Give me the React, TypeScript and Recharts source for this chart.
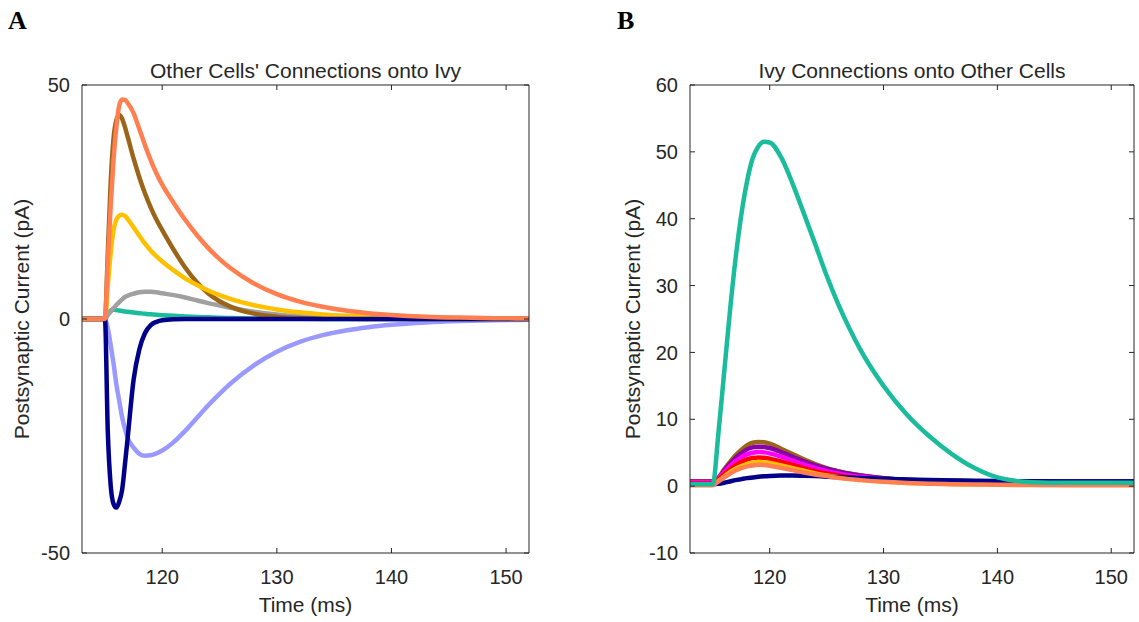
import React from 'react';
import { LineChart, Line, XAxis, YAxis, ReferenceLine } from 'recharts';

// ---------- Panel A: other cells' connections onto Ivy ----------
const timeA = [113, 115, 115.25, 115.5, 115.75, 116, 116.25, 116.5, 116.75, 117, 117.5, 118, 118.5, 119, 119.5, 120, 121, 122, 123, 124, 125, 126, 128, 130, 132, 134, 136, 138, 140, 143, 146, 149, 152];

const periwinkleA = [0, 0, -2, -5.5, -9.5, -14, -17.5, -21, -23.5, -25.5, -27.5, -28.8, -29.2, -29.1, -28.7, -28.1, -26.3, -23.9, -21.2, -18.5, -16, -13.7, -9.9, -7.0, -4.9, -3.45, -2.45, -1.75, -1.25, -0.75, -0.45, -0.27, -0.17];
const tealA = [0, 0, 1.2, 1.8, 2, 1.9, 1.8, 1.7, 1.6, 1.55, 1.4, 1.25, 1.1, 1, 0.9, 0.82, 0.68, 0.55, 0.44, 0.35, 0.27, 0.21, 0.12, 0.06, 0.03, 0.01, 0, 0, 0, 0, 0, 0, 0];
const grayA = [0, 0, 0.8, 1.6, 2.3, 3, 3.6, 4.2, 4.7, 5, 5.4, 5.7, 5.8, 5.8, 5.7, 5.5, 5.1, 4.6, 4.0, 3.4, 2.9, 2.4, 1.55, 0.95, 0.57, 0.34, 0.2, 0.12, 0.07, 0.03, 0.01, 0, 0];
const brownA = [0, 0, 14, 29, 38.5, 42.5, 43.6, 42.8, 41, 38.8, 34.3, 30.3, 26.8, 23.8, 21.2, 19, 14.8, 11, 7.9, 5.5, 3.8, 2.6, 1.15, 0.5, 0.22, 0.1, 0.04, 0.01, 0, 0, 0, 0, 0];
const yellowA = [0, 0, 7, 14, 19, 21.2, 22.1, 22.3, 22, 21.3, 19.6, 17.8, 16.1, 14.6, 13.4, 12.3, 10.4, 8.7, 7.3, 6.1, 5.1, 4.25, 2.95, 2.05, 1.42, 0.98, 0.68, 0.47, 0.33, 0.19, 0.11, 0.06, 0.04];
const navyA = [0, 0, -24, -35.5, -39.5, -40.3, -39, -36.5, -31, -25, -13, -6.5, -3, -1.3, -0.6, -0.25, -0.05, 0, 0, 0, 0, 0, 0, 0, 0, 0, 0, 0, 0, 0, 0, 0, 0];
const coralA = [0, 0, 12, 24, 34, 41, 45.6, 46.9, 46.8, 46.1, 44, 40.6, 37.1, 33.9, 31.1, 28.7, 24.8, 21.2, 18, 15.2, 12.8, 10.8, 7.6, 5.3, 3.7, 2.6, 1.8, 1.25, 0.88, 0.5, 0.3, 0.17, 0.1];

const yTicksA = [-50, 0, 50];

// ---------- Panel B: Ivy connections onto other cells ----------
const timeB = [113, 115, 115.5, 116, 116.5, 117, 117.5, 118, 118.5, 119, 119.5, 120, 121, 122, 123, 124, 125, 126, 127, 128, 130, 132, 134, 136, 138, 140, 143, 146, 149, 152];

const brownB = [0.7, 0.7, 1.3, 2.5, 3.6, 4.6, 5.4, 6.1, 6.5, 6.6, 6.55, 6.35, 5.6, 4.8, 4.0, 3.3, 2.7, 2.25, 1.9, 1.6, 1.2, 0.95, 0.85, 0.8, 0.75, 0.72, 0.7, 0.7, 0.7, 0.7];
const purpleB = [0.7, 0.7, 1.2, 2.3, 3.3, 4.2, 4.9, 5.5, 5.8, 5.9, 5.85, 5.7, 5.1, 4.4, 3.7, 3.1, 2.6, 2.2, 1.85, 1.6, 1.2, 0.95, 0.85, 0.8, 0.75, 0.72, 0.7, 0.7, 0.7, 0.7];
const magentaB = [0.6, 0.6, 1.2, 2.1, 3.0, 3.7, 4.3, 4.75, 5.0, 5.1, 5.05, 4.9, 4.4, 3.8, 3.2, 2.7, 2.25, 1.9, 1.6, 1.4, 1.05, 0.85, 0.75, 0.7, 0.65, 0.62, 0.6, 0.6, 0.6, 0.6];
const redB = [0.4, 0.4, 1.0, 1.8, 2.5, 3.1, 3.6, 4.0, 4.2, 4.3, 4.25, 4.1, 3.7, 3.2, 2.7, 2.25, 1.9, 1.6, 1.35, 1.15, 0.85, 0.65, 0.55, 0.5, 0.45, 0.42, 0.4, 0.4, 0.4, 0.4];
const yellowB = [0.2, 0.2, 0.75, 1.45, 2.1, 2.6, 3.0, 3.3, 3.5, 3.6, 3.55, 3.45, 3.1, 2.7, 2.3, 1.9, 1.6, 1.35, 1.1, 0.95, 0.7, 0.5, 0.4, 0.32, 0.27, 0.24, 0.22, 0.2, 0.2, 0.2];
const navyB = [0.3, 0.3, 0.35, 0.5, 0.7, 0.9, 1.05, 1.2, 1.3, 1.4, 1.47, 1.52, 1.58, 1.58, 1.55, 1.5, 1.42, 1.35, 1.28, 1.22, 1.1, 1.0, 0.92, 0.86, 0.81, 0.77, 0.73, 0.71, 0.7, 0.7];
const coralB = [0.15, 0.15, 0.7, 1.3, 1.85, 2.35, 2.7, 2.95, 3.1, 3.2, 3.15, 3.05, 2.75, 2.4, 2.05, 1.75, 1.5, 1.25, 1.05, 0.9, 0.65, 0.48, 0.37, 0.3, 0.25, 0.2, 0.17, 0.15, 0.15, 0.15];
const tealB = [0.3, 0.3, 8, 17, 26, 34, 40.5, 45.5, 49, 50.8, 51.5, 51.4, 49.2, 45.3, 40.8, 36.2, 31.5, 27.3, 23.6, 20.3, 15, 10.8, 7.5, 4.8, 2.7, 1.3, 0.6, 0.5, 0.5, 0.5];

const yTicksB = [-10, 0, 10, 20, 30, 40, 50, 60];

const xTicks = [120, 130, 140, 150];
const xDomain: [number, number] = [113, 152];

// ---------- styling ----------
const W = 1139;
const H = 622;
const PLOT_TOP = 85;
const PLOT_BOTTOM = 553;
const TICK_LEN = 5;
const AXIS = '#262626';
const SANS = '"Liberation Sans", Arial, Helvetica, sans-serif';
const SERIF = '"Liberation Serif", "DejaVu Serif", serif';
const TICK_FONT = 20;
const LABEL_FONT = 21;

const C = {
  coral: '#FF7F50',
  brown: '#9A6518',
  yellow: '#FFC000',
  gray: '#A0A0A0',
  teal: '#1ABC9C',
  navy: '#00008B',
  periwinkle: '#9999FF',
  purple: '#8A00A8',
  magenta: '#FF00FF',
  red: '#FF0000',
};

type SeriesDef = { key: string; values: number[]; color: string };

function buildRows(time: number[], series: SeriesDef[]) {
  return time.map((t, i) => {
    const row: Record<string, number> = { t };
    series.forEach((s) => {
      row[s.key] = s.values[i];
    });
    return row;
  });
}

// drawing order: later entries sit on top
const seriesA: SeriesDef[] = [
  { key: 'periwinkle', values: periwinkleA, color: C.periwinkle },
  { key: 'teal', values: tealA, color: C.teal },
  { key: 'gray', values: grayA, color: C.gray },
  { key: 'brown', values: brownA, color: C.brown },
  { key: 'yellow', values: yellowA, color: C.yellow },
  { key: 'navy', values: navyA, color: C.navy },
  { key: 'coral', values: coralA, color: C.coral },
];

const seriesB: SeriesDef[] = [
  { key: 'brown', values: brownB, color: C.brown },
  { key: 'purple', values: purpleB, color: C.purple },
  { key: 'magenta', values: magentaB, color: C.magenta },
  { key: 'red', values: redB, color: C.red },
  { key: 'yellow', values: yellowB, color: C.yellow },
  { key: 'navy', values: navyB, color: C.navy },
  { key: 'coral', values: coralB, color: C.coral },
  { key: 'teal', values: tealB, color: C.teal },
];

// Bottom tick: label plus inward tick marks on both the bottom and top edges of the box
const makeXTick = () => (props: any) => {
  const { x, y, payload } = props;
  return (
    <g>
      <line x1={x} x2={x} y1={PLOT_BOTTOM} y2={PLOT_BOTTOM - TICK_LEN} stroke={AXIS} />
      <line x1={x} x2={x} y1={PLOT_TOP} y2={PLOT_TOP + TICK_LEN} stroke={AXIS} />
      <text x={x} y={y} dy="0.71em" textAnchor="middle" fill={AXIS} fontSize={TICK_FONT} fontFamily={SANS}>
        {payload.value}
      </text>
    </g>
  );
};

// Left tick: label plus inward tick marks on both the left and right edges of the box
const makeYTick = (left: number, right: number) => (props: any) => {
  const { x, y, payload } = props;
  return (
    <g>
      <line x1={left} x2={left + TICK_LEN} y1={y} y2={y} stroke={AXIS} />
      <line x1={right} x2={right - TICK_LEN} y1={y} y2={y} stroke={AXIS} />
      <text x={x} y={y} dy="0.355em" textAnchor="end" fill={AXIS} fontSize={TICK_FONT} fontFamily={SANS}>
        {payload.value}
      </text>
    </g>
  );
};

type PanelProps = {
  left: number;
  width: number;
  plotLeft: number;
  plotRight: number;
  time: number[];
  series: SeriesDef[];
  yDomain: [number, number];
  yTicks: number[];
};

function Panel({ left, width, plotLeft, plotRight, time, series, yDomain, yTicks }: PanelProps) {
  const rows = buildRows(time, series);
  return (
    <div style={{ position: 'absolute', left, top: 0, width, height: H }}>
      <LineChart
        width={width}
        height={H}
        data={rows}
        margin={{ top: PLOT_TOP, right: width - plotRight, bottom: 0, left: 0 }}
      >
        <XAxis
          dataKey="t"
          type="number"
          domain={xDomain}
          ticks={xTicks}
          allowDataOverflow
          height={H - PLOT_BOTTOM}
          tickSize={0}
          tickMargin={17}
          tickLine={false}
          stroke={AXIS}
          tick={makeXTick()}
        />
        <YAxis
          type="number"
          domain={yDomain}
          ticks={yTicks}
          allowDataOverflow
          width={plotLeft}
          tickSize={0}
          tickMargin={12}
          tickLine={false}
          stroke={AXIS}
          tick={makeYTick(plotLeft, plotRight)}
        />
        {series.map((s) => (
          <Line
            key={s.key}
            dataKey={s.key}
            type="monotone"
            stroke={s.color}
            strokeWidth={4.5}
            strokeLinejoin="round"
            dot={false}
            activeDot={false}
            isAnimationActive={false}
          />
        ))}
        {/* top and right edges of the axes box */}
        <ReferenceLine y={yDomain[1]} stroke={AXIS} strokeWidth={1} />
        <ReferenceLine x={xDomain[1]} stroke={AXIS} strokeWidth={1} />
      </LineChart>
    </div>
  );
}

export default function App() {
  const midA = (82 + 529) / 2;
  const midB = (690 + 1134) / 2;
  const midY = (PLOT_TOP + PLOT_BOTTOM) / 2;
  return (
    <div style={{ position: 'absolute', left: 0, top: 0, width: W, height: H, background: '#fff' }}>
      <Panel
        left={0}
        width={560}
        plotLeft={82}
        plotRight={529}
        time={timeA}
        series={seriesA}
        yDomain={[-50, 50]}
        yTicks={yTicksA}
      />
      <Panel
        left={560}
        width={579}
        plotLeft={130}
        plotRight={574}
        time={timeB}
        series={seriesB}
        yDomain={[-10, 60]}
        yTicks={yTicksB}
      />
      <svg
        width={W}
        height={H}
        style={{ position: 'absolute', left: 0, top: 0, pointerEvents: 'none' }}
      >
        <g fontFamily={SERIF} fontWeight="bold" fontSize={26} fill="#000">
          <text x={8} y={29}>A</text>
          <text x={617} y={29}>B</text>
        </g>
        <g fontFamily={SANS} fontSize={LABEL_FONT} fill={AXIS} textAnchor="middle">
          <text x={midA} y={78}>Other Cells' Connections onto Ivy</text>
          <text x={midB} y={78}>Ivy Connections onto Other Cells</text>
          <text x={midA} y={612}>Time (ms)</text>
          <text x={midB} y={612}>Time (ms)</text>
          <text transform={`translate(28.5 ${midY}) rotate(-90)`}>Postsynaptic Current (pA)</text>
          <text transform={`translate(639.5 ${midY}) rotate(-90)`}>Postsynaptic Current (pA)</text>
        </g>
      </svg>
    </div>
  );
}
